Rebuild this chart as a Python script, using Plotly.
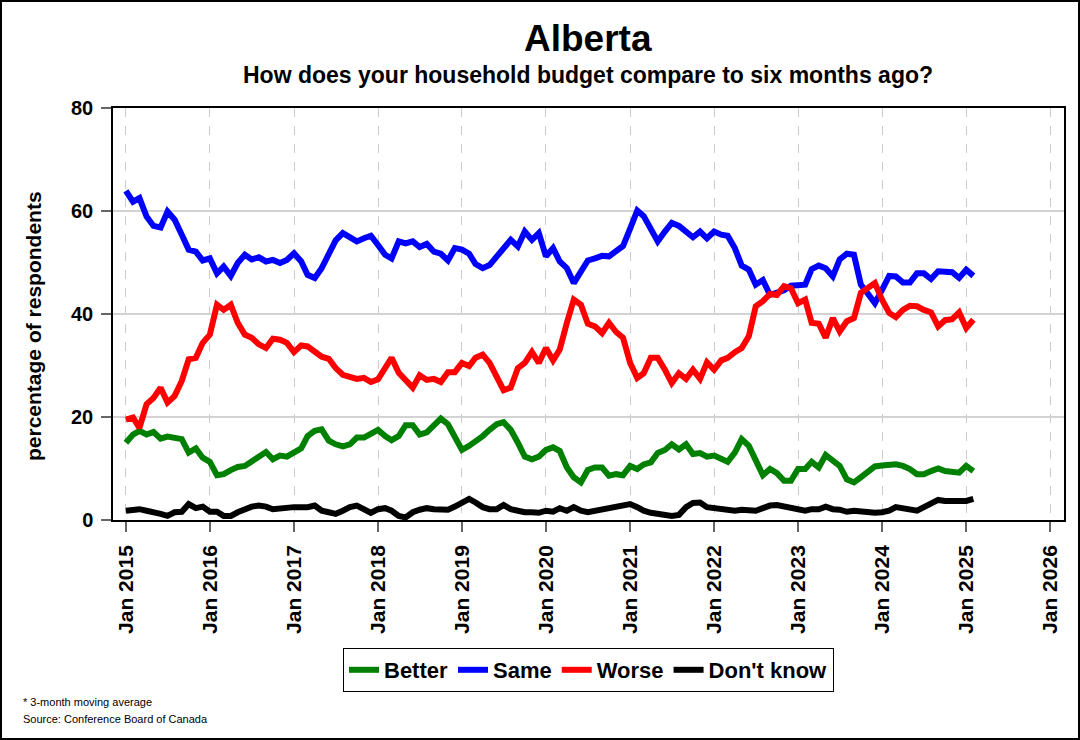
import pandas as pd
import plotly.graph_objects as go

# ---------------- data ----------------
months = pd.date_range("2015-01-01", periods=122, freq="MS")

better = [15.0,16.6,17.3,16.6,17.1,15.8,16.2,15.8,15.7,13.1,13.9,12.1,11.3,8.7,8.9,9.7,10.3,10.5,11.3,12.1,13.2,11.8,12.5,12.3,13.2,13.9,16.3,17.3,17.6,15.4,14.7,14.3,14.7,
          16.0,16.0,16.8,17.5,16.3,15.5,16.3,18.4,18.4,16.6,17.0,18.4,19.7,18.6,16.0,13.6,14.4,15.2,16.3,17.5,18.6,19.0,17.5,15.0,12.3,11.8,12.3,13.6,14.1,13.4,10.2,8.3,
          7.3,9.7,10.2,10.2,8.6,8.9,8.7,10.5,9.9,10.8,11.2,13.0,13.6,14.7,13.7,14.7,12.8,13.0,12.3,12.5,11.7,11.3,13.1,15.7,14.4,11.5,8.7,9.9,9.1,7.6,7.6,9.9,
          9.9,11.3,10.2,12.6,11.5,10.5,7.9,7.3,8.3,9.5,10.4,10.6,10.6,10.8,10.5,9.9,8.9,8.9,9.5,10.0,9.5,9.4,9.2,10.5,9.5]

same = [63.9,61.8,62.5,58.9,57.1,56.8,59.9,58.3,55.4,52.5,52.1,50.4,50.8,47.9,49.2,47.4,49.9,51.5,50.6,51.0,50.2,50.5,49.9,50.5,51.8,50.2,47.6,47.0,48.9,51.8,54.3,55.7,55.0,
        54.1,54.7,55.2,53.4,51.5,50.8,54.1,53.7,54.1,53.0,53.6,52.1,51.7,50.4,52.8,52.5,51.7,49.7,48.9,49.5,51.2,52.8,54.4,53.1,56.0,54.4,55.7,51.2,52.8,50.2,48.9,46.0,
        48.3,50.4,50.8,51.3,51.2,52.1,53.2,56.6,60.1,59.0,56.3,54.1,56.0,57.7,57.1,55.8,54.9,56.0,54.7,56.0,55.4,55.2,52.8,49.4,48.6,45.7,46.6,43.7,44.1,44.6,45.5,45.7,
        45.7,48.7,49.4,48.9,47.3,50.6,51.7,51.5,45.7,43.9,42.1,44.7,47.4,47.3,46.1,46.1,47.9,47.9,46.8,48.3,48.3,48.1,47.0,48.6,47.4]

worse = [19.5,19.9,17.9,22.5,23.7,25.7,22.8,24.1,27.0,31.2,31.5,34.4,36.0,41.8,40.8,41.8,38.3,36.0,35.4,34.1,33.4,35.2,35.0,34.4,32.6,33.9,33.7,32.8,31.7,31.3,29.5,28.2,27.9,
         27.4,27.6,26.8,27.3,29.5,31.5,28.6,27.3,25.7,28.1,27.2,27.4,26.8,28.7,28.7,30.5,29.9,31.5,32.1,30.5,27.9,25.2,25.7,29.5,30.5,32.6,30.5,33.4,31.0,33.1,38.3,42.8,
         41.8,38.1,37.6,36.3,38.3,36.5,35.4,30.5,27.6,28.5,31.5,31.5,29.2,26.6,28.5,27.4,29.2,27.4,30.6,29.2,31.0,31.5,32.6,33.4,35.7,41.5,42.5,43.9,43.7,45.4,45.0,42.1,
         42.8,38.3,38.1,35.4,39.2,36.6,38.6,39.2,44.1,45.0,46.0,42.8,40.2,39.4,40.8,41.6,41.5,40.8,40.3,37.6,38.8,39.0,40.3,37.3,38.9]

dont_know = [1.8,2.0,2.1,1.8,1.6,1.2,0.8,1.5,1.6,3.1,2.3,2.6,1.6,1.6,0.8,0.8,1.5,2.1,2.6,2.8,2.6,2.1,2.3,2.5,2.5,2.5,2.5,2.8,1.8,1.5,1.2,1.8,2.5,
             2.8,2.0,1.4,2.1,2.3,1.8,0.8,0.5,1.5,2.0,2.3,2.1,2.0,2.0,2.6,3.4,4.1,3.4,2.5,2.1,2.1,2.9,2.1,1.8,1.5,1.5,1.4,1.8,1.6,2.3,1.8,2.5,
             1.8,1.5,1.8,2.0,2.3,2.6,2.9,3.1,2.5,1.8,1.4,1.2,0.8,0.8,1.0,2.5,3.3,3.4,2.5,2.3,2.1,2.0,1.8,2.0,1.8,1.8,2.3,2.8,2.9,2.6,2.3,2.1,
             1.8,2.1,2.1,2.6,2.1,2.0,1.6,1.8,1.6,1.5,1.4,1.5,1.8,2.5,2.3,2.0,1.8,2.5,3.1,3.9,3.7,3.7,3.5,3.7,4.1]

tick_years = [2015, 2016, 2017, 2018, 2019, 2020, 2021, 2022, 2023, 2024, 2025, 2026]
tick_labels = ["Jan %d" % y for y in tick_years]
y_ticks = [0, 20, 40, 60, 80]

series_names = ["Better", "Same", "Worse", "Don't know"]
series_colors = ["#008000", "#0000FF", "#FF0000", "#000000"]

# ---------------- layout helpers ----------------
W, H = 1080, 740
PL, PR, PT, PB = 113, 1064, 108, 520
FONT = "Liberation Sans, Arial, Helvetica, sans-serif"


def px(x):
    return (x - PL) / (PR - PL)


def py(y):
    return (PB - y) / (PB - PT)


fig = go.Figure()
for name, vals, col in zip(series_names, [better, same, worse, dont_know], series_colors):
    fig.add_trace(go.Scatter(x=months, y=vals, mode="lines", name=name,
                             line=dict(color=col, width=6)))

fig.update_layout(
    width=W, height=H,
    margin=dict(l=PL, r=W - PR, t=PT, b=H - PB),
    paper_bgcolor="white", plot_bgcolor="white",
    font=dict(family=FONT, color="black"),
    showlegend=True,
    legend=dict(orientation="h", x=0.5, xanchor="center", y=py(670), yanchor="middle",
                bordercolor="black", borderwidth=1, bgcolor="white",
                font=dict(family=FONT, size=22, weight="bold", color="black"),
                itemwidth=30),
)

fig.update_xaxes(
    type="date",
    range=["2014-11-06", "2026-03-02"],
    tickvals=[pd.Timestamp(y, 1, 1) for y in tick_years],
    ticktext=tick_labels,
    tickangle=-90,
    tickfont=dict(family=FONT, size=21, weight="bold", color="black"),
    ticklabelstandoff=5,
    showgrid=True, gridcolor="#cccccc", gridwidth=1, griddash="dash",
    ticks="outside", ticklen=10, tickcolor="#666666", tickwidth=1.5,
    showline=True, linecolor="black", linewidth=1.5, mirror=True,
    zeroline=False,
)
fig.update_yaxes(
    range=[0, 80],
    tickvals=y_ticks,
    tickfont=dict(family=FONT, size=20, weight="bold", color="black"),
    ticklabelstandoff=4,
    showgrid=True, gridcolor="#d3d3d3", gridwidth=1.5,
    ticks="outside", ticklen=10, tickcolor="#666666", tickwidth=1.5,
    showline=True, linecolor="black", linewidth=1.5, mirror=True,
    zeroline=False,
)

annotations = [
    dict(text="Alberta", x=px(588), y=py(38), xref="paper", yref="paper",
         xanchor="center", yanchor="middle", showarrow=False,
         font=dict(family=FONT, size=37, weight="bold", color="black")),
    dict(text="How does your household budget compare to six months ago?",
         x=px(588), y=py(75), xref="paper", yref="paper",
         xanchor="center", yanchor="middle", showarrow=False,
         font=dict(family=FONT, size=23, weight="bold", color="black")),
    dict(text="percentage of respondents", x=px(33), y=py(326), xref="paper", yref="paper",
         xanchor="center", yanchor="middle", textangle=-90, showarrow=False,
         font=dict(family=FONT, size=21, weight="bold", color="black")),
    dict(text="* 3-month moving average", x=px(21), y=py(702), xref="paper", yref="paper",
         xanchor="left", yanchor="middle", showarrow=False,
         font=dict(family=FONT, size=11, color="black")),
    dict(text="Source: Conference Board of Canada", x=px(21), y=py(719), xref="paper", yref="paper",
         xanchor="left", yanchor="middle", showarrow=False,
         font=dict(family=FONT, size=11, color="black")),
]
fig.update_layout(annotations=annotations)

fig.add_shape(type="rect", xref="paper", yref="paper",
              x0=px(1), x1=px(1079), y0=py(739), y1=py(1),
              line=dict(color="black", width=2), fillcolor="rgba(0,0,0,0)", layer="above")

fig.write_html("out.html")
